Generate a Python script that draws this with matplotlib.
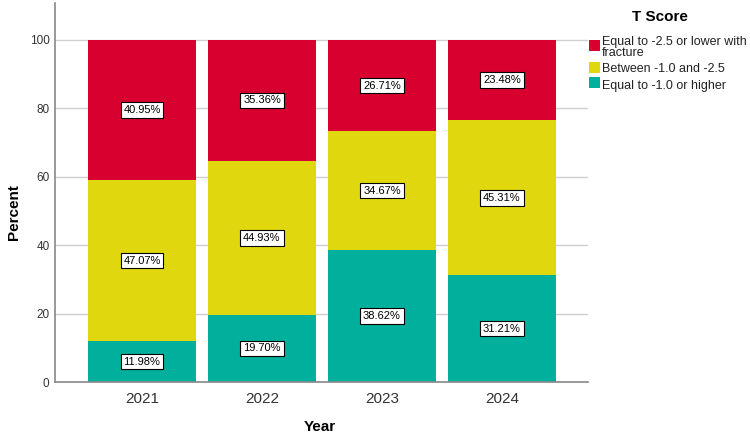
import matplotlib
matplotlib.use("Agg")
import matplotlib.pyplot as plt
from matplotlib.patches import Rectangle

plt.rcParams['font.family'] = ['Liberation Sans', 'DejaVu Sans']

years = ["2021", "2022", "2023", "2024"]
higher = [11.98, 19.70, 38.62, 31.21]
between = [47.07, 44.93, 34.67, 45.31]
lower = [40.95, 35.36, 26.71, 23.48]
series_names = ["Equal to -2.5 or lower with\nfracture", "Between -1.0 and -2.5", "Equal to -1.0 or higher"]
colors = {"lower": "#D8002F", "between": "#E1D70F", "higher": "#00B09C"}

fig = plt.figure(figsize=(7.5, 4.4), dpi=100)
ax = fig.add_axes([55/750, 1-382/440, (588-55)/750, (382-3)/440])

x = list(range(len(years)))
w = 0.9
bottom = [0]*4
stacks = [(higher, colors["higher"]), (between, colors["between"]), (lower, colors["lower"])]
for vals, c in stacks:
    ax.bar(x, vals, width=w, bottom=bottom, color=c, edgecolor='none', zorder=2)
    for xi, v, b in zip(x, vals, bottom):
        ax.text(xi, b + v/2, f"{v:.2f}%", ha='center', va='center', fontsize=8, color='black', zorder=3,
                bbox=dict(boxstyle='square,pad=0.25', facecolor='white', edgecolor='black', linewidth=0.8))
    bottom = [b + v for b, v in zip(bottom, vals)]

ax.set_xlim(-0.725, 3.717)
ax.set_ylim(0, 110.8)
ax.set_yticks([0, 20, 40, 60, 80, 100])
ax.grid(axis='y', color='#d0d0d0', linewidth=1, zorder=0)
ax.set_axisbelow(True)
ax.set_xticks(x)
ax.set_xticklabels(years, fontsize=11, color='#333333')
ax.tick_params(axis='y', labelsize=8.5, labelcolor='#333333', length=0, pad=4)
ax.tick_params(axis='x', length=0, pad=7)
for s in ['top', 'right']:
    ax.spines[s].set_visible(False)
for s in ['left', 'bottom']:
    ax.spines[s].set_color('#888888')
    ax.spines[s].set_linewidth(1.2)
ax.set_xlabel("Year", fontsize=11, fontweight='bold')
ax.xaxis.set_label_coords((320-55)/(588-55), -(420-382)/(382-3))
ax.set_ylabel("Percent", fontsize=11, fontweight='bold')
ax.yaxis.set_label_coords(-(55-21)/(588-55), (382-212)/(382-3))

# legend
fig.text(660/750, 1-17/440, "T Score", fontsize=11, fontweight='bold', ha='center', va='center')
legend_colors = [colors["lower"], colors["between"], colors["higher"]]
patch_y = [45.5, 67.5, 83]
text_y = [36, 63, 80]
for name, c, py, ty in zip(series_names, legend_colors, patch_y, text_y):
    fig.patches.append(Rectangle((589/750, 1-(py+5.5)/440), 11/750, 11/440, transform=fig.transFigure,
                                 facecolor=c, edgecolor='none'))
    fig.text(602/750, 1-ty/440, name, fontsize=9, ha='left', va='top', color='#222222', linespacing=0.9)

fig.savefig("out.png", dpi=100)
